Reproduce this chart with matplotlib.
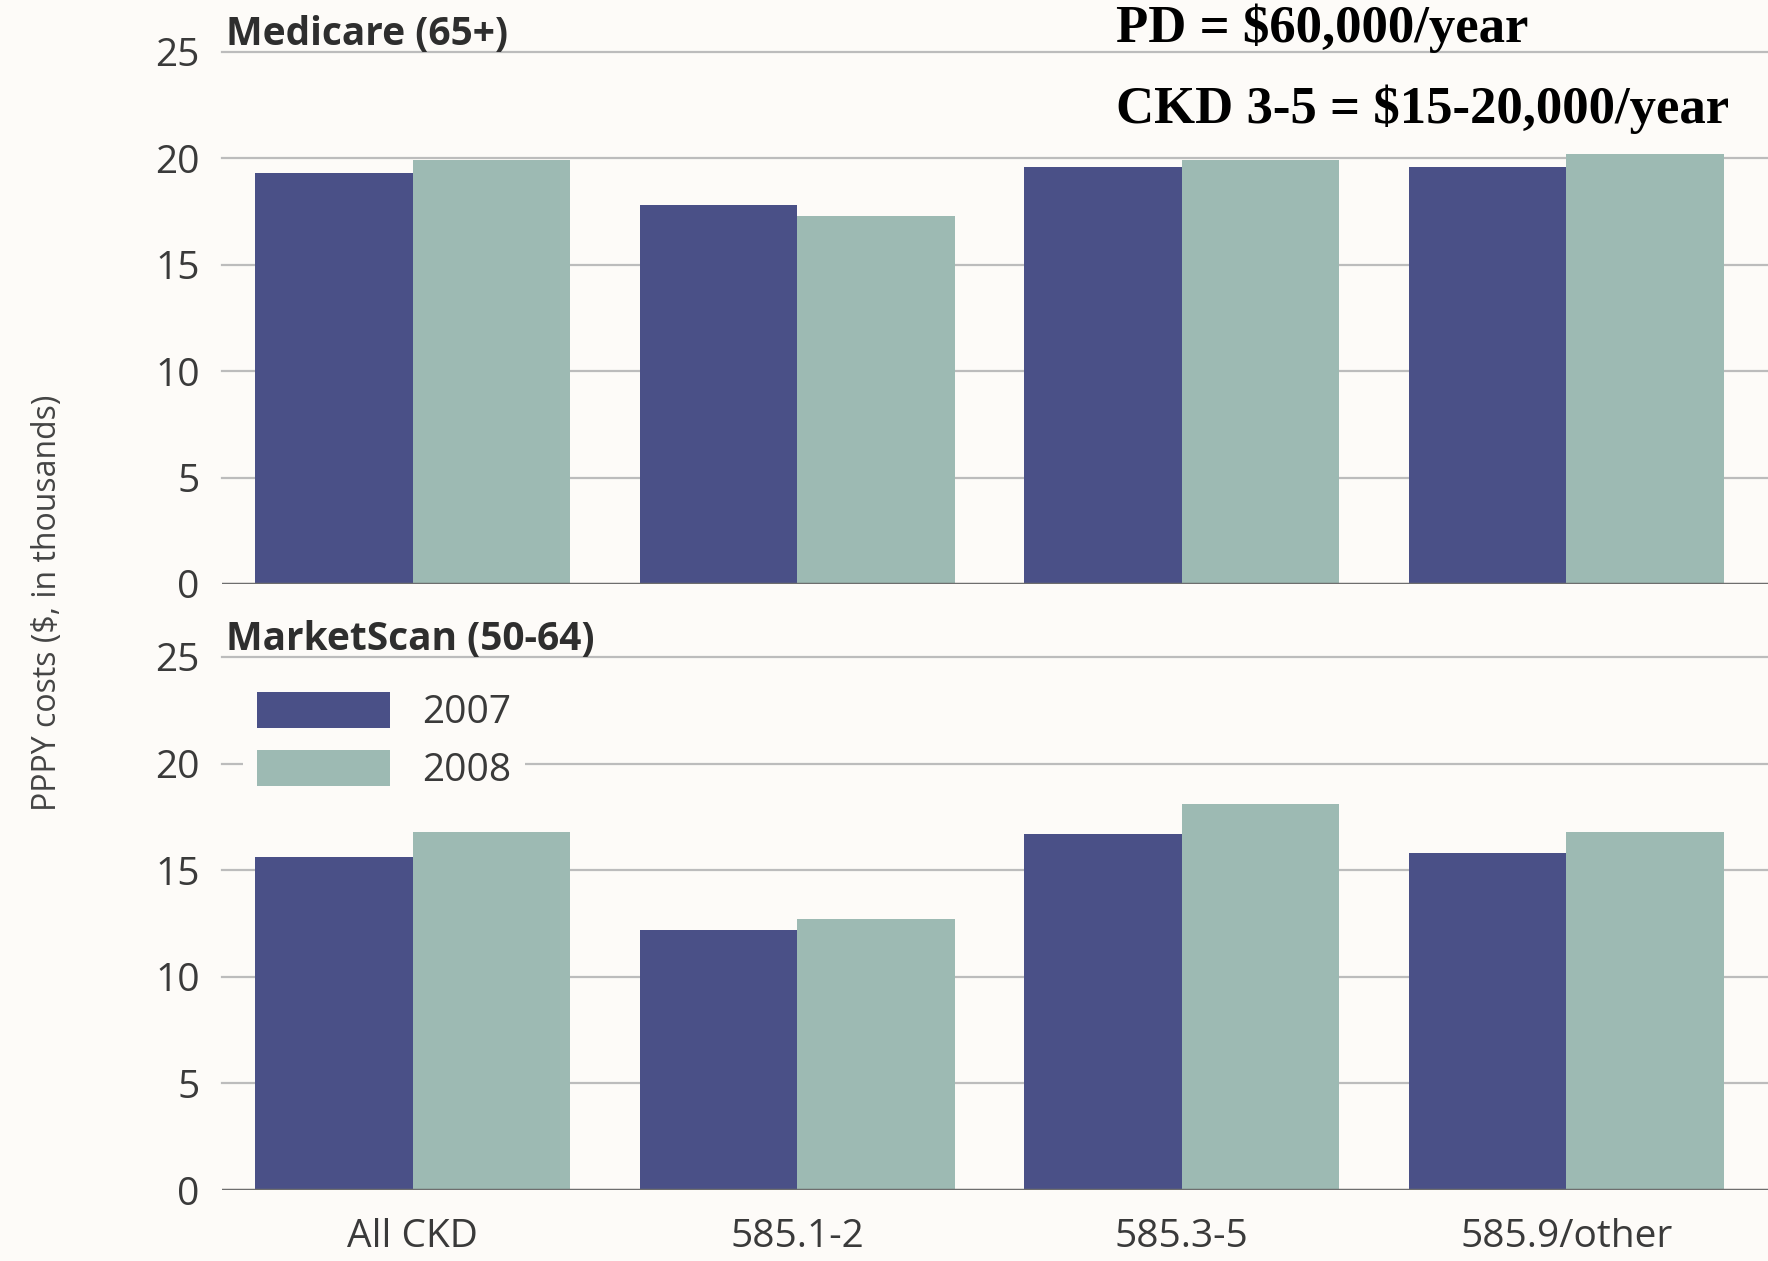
import numpy as np
import matplotlib
matplotlib.use('Agg')
from matplotlib import pyplot as plt

# data ($ thousands, per patient per year)
categories = ['All CKD', '585.1-2', '585.3-5', '585.9/other']
years = ['2007', '2008']
medicare_2007 = [19.3, 17.8, 19.6, 19.6]
medicare_2008 = [19.9, 17.3, 19.9, 20.2]
marketscan_2007 = [15.6, 12.2, 16.7, 15.8]
marketscan_2008 = [16.8, 12.7, 18.1, 16.8]
yticks = [0, 5, 10, 15, 20, 25]

c07 = '#4a5087'
c08 = '#9dbab3'
bg = '#fdfbf8'
txt = '#3a3a3a'
fam = ['Open Sans', 'DejaVu Sans']
fs = 28

fig = plt.figure(figsize=(17.68, 12.61), dpi=100, facecolor=bg)
ax1 = fig.add_axes([0.1256, 0.5369, 0.8744, 0.4219])
ax2 = fig.add_axes([0.1256, 0.0563, 0.8744, 0.4227])

x = np.arange(len(categories))
w = 0.41

def draw_panel(ax, v07, v08, title):
    ax.set_facecolor('none')
    ax.bar(x - w/2, v07, w, color=c07, label=years[0], zorder=2)
    ax.bar(x + w/2, v08, w, color=c08, label=years[1], zorder=2)
    ax.set_xlim(-0.496, 3.525)
    ax.set_ylim(0, 25)
    ax.set_yticks(yticks)
    ax.set_yticklabels([str(t) for t in yticks], fontsize=fs, color=txt, family=fam)
    ax.tick_params(axis='both', length=0)
    ax.tick_params(axis='y', pad=16)
    for t in yticks[1:]:
        ax.axhline(t, color='#bcbcbc', lw=1.6, zorder=1, clip_on=False)
    ax.axhline(0, color='#6e6e6e', lw=2.5, zorder=3)
    for s in ax.spines.values():
        s.set_visible(False)
    ax.text(-0.485, 24.9, title, fontsize=fs, fontweight='bold', color='#2e2e2e',
            family=fam, ha='left', va='bottom')

draw_panel(ax1, medicare_2007, medicare_2008, 'Medicare (65+)')
draw_panel(ax2, marketscan_2007, marketscan_2008, 'MarketScan (50-64)')

ax1.set_xticks([])
ax2.set_xticks(x)
ax2.set_xticklabels(categories, fontsize=fs, color=txt, family=fam)
ax2.tick_params(axis='x', pad=20)

leg = ax2.legend(loc='upper left', bbox_to_anchor=(0.0136, 0.9606), borderaxespad=0,
                 borderpad=0.35, handlelength=3.42, handleheight=1.07,
                 handletextpad=0.84, labelspacing=0.45, frameon=True, fancybox=False,
                 prop={'family': fam, 'size': fs})
leg.get_frame().set_facecolor(bg)
leg.get_frame().set_edgecolor('none')
leg.get_frame().set_alpha(1)
for t in leg.get_texts():
    t.set_color(txt)

fig.text(0.0266, 0.522, 'PPPY costs ($, in thousands)', rotation=90, fontsize=23,
         color='#444444', family=fam, ha='center', va='center')

fig.text(0.631, 0.967, 'PD = $60,000/year', fontsize=38, fontweight='bold',
         family='Liberation Serif', color='black', ha='left', va='baseline')
fig.text(0.631, 0.9025, 'CKD 3-5 = $15-20,000/year', fontsize=38, fontweight='bold',
         family='Liberation Serif', color='black', ha='left', va='baseline')

fig.savefig('out.png', dpi=100, facecolor=bg)
